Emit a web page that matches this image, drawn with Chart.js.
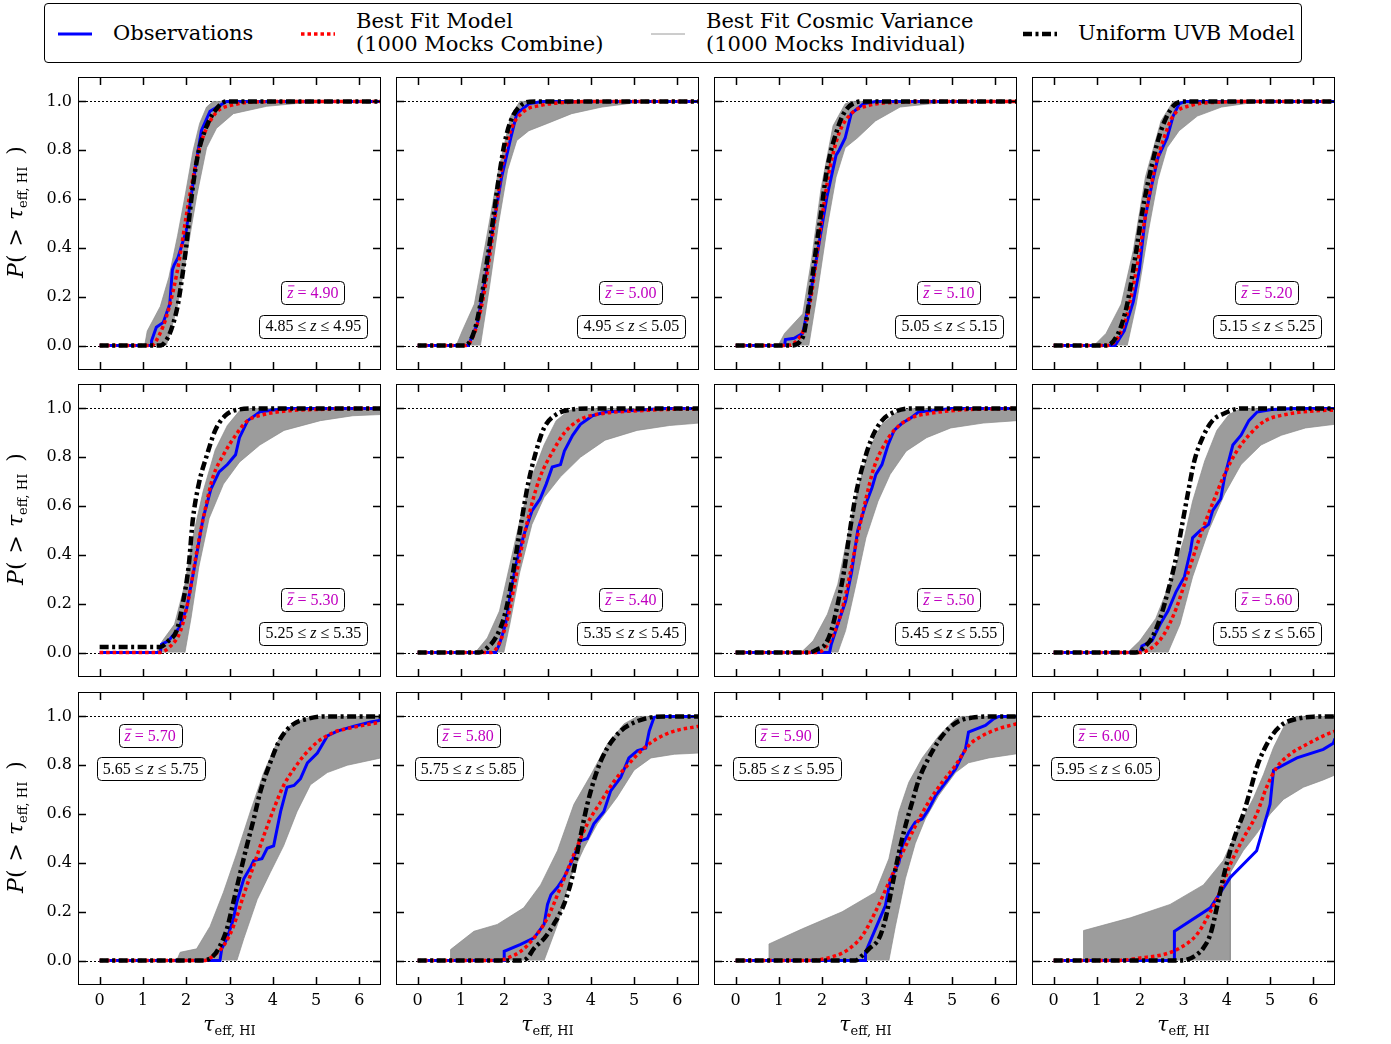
<!DOCTYPE html>
<html>
<head>
<meta charset="utf-8">
<script src="https://cdn.jsdelivr.net/npm/chart.js@4.4.1/dist/chart.umd.min.js"></script>
<style>
  body { margin: 0; background: #fff; }
  #page { position: relative; width: 1391px; height: 1044px; overflow: hidden; font-family: "DejaVu Serif", serif; }
  canvas { position: absolute; }
  #legend { position: absolute; left: 44px; top: 3px; width: 1256px; height: 58px; border: 1px solid #000; border-radius: 4px; }
  .lgtxt { position: absolute; top: 50%; transform: translateY(-50%); font-size: 21px; line-height: 23px; white-space: nowrap; }
  .lgline { position: absolute; top: 24px; }
  .ytitle { position: absolute; transform: translate(-50%, -50%) rotate(-90deg); font-size: 22px; line-height: 22px; white-space: nowrap; }
  .xtitle { position: absolute; transform: translateX(-50%); font-size: 20px; line-height: 20px; white-space: nowrap; }
  sub { font-size: 13px; vertical-align: -4px; font-style: normal; }
</style>
</head>
<body>
<div id="page">
  <div id="legend"></div>
</div>
<script>
// redshift bins, one per panel (left to right, top to bottom)
const zMid  = [4.90, 5.00, 5.10, 5.20, 5.30, 5.40, 5.50, 5.60, 5.70, 5.80, 5.90, 6.00];
const zLow  = [4.85, 4.95, 5.05, 5.15, 5.25, 5.35, 5.45, 5.55, 5.65, 5.75, 5.85, 5.95];
const zHigh = [4.95, 5.05, 5.15, 5.25, 5.35, 5.45, 5.55, 5.65, 5.75, 5.85, 5.95, 6.05];

const xTicks = [0, 1, 2, 3, 4, 5, 6];
const yTicks = [0, 0.2, 0.4, 0.6, 0.8, 1.0];
const refLines = [0, 1];

// observed cumulative distributions [tau, P]
const obsCurves = [
  [[0,0],[1.2,0],[1.2,0.02],[1.31,0.075],[1.47,0.095],[1.62,0.17],[1.68,0.31],[1.72,0.33],[1.81,0.36],[2.0,0.47],[2.12,0.62],[2.24,0.76],[2.35,0.88],[2.55,0.96],[2.93,1.0],[6.5,1.0]],
  [[0,0],[1.17,0],[1.38,0.09],[1.59,0.3],[1.73,0.47],[1.94,0.69],[2.15,0.85],[2.29,0.95],[2.57,0.99],[2.86,1.0],[6.5,1.0]],
  [[0,0],[1.13,0],[1.15,0.025],[1.35,0.03],[1.55,0.05],[1.69,0.17],[1.9,0.39],[2.11,0.61],[2.32,0.78],[2.39,0.8],[2.53,0.85],[2.67,0.95],[2.95,0.99],[3.23,1.0],[6.5,1.0]],
  [[0,0],[1.42,0],[1.63,0.06],[1.84,0.18],[1.98,0.31],[2.12,0.53],[2.27,0.66],[2.41,0.77],[2.62,0.85],[2.76,0.94],[2.9,0.99],[3.04,1.0],[6.5,1.0]],
  [[0,0],[1.4,0],[1.43,0.034],[1.59,0.048],[1.83,0.1],[2.01,0.18],[2.2,0.36],[2.39,0.55],[2.57,0.67],[2.76,0.74],[2.95,0.77],[3.14,0.81],[3.23,0.88],[3.42,0.95],[3.7,0.986],[3.89,0.99],[4.26,1.0],[6.5,1.0]],
  [[0,0],[1.8,0],[1.89,0.034],[2.03,0.116],[2.13,0.225],[2.27,0.36],[2.45,0.48],[2.64,0.58],[2.83,0.63],[2.97,0.69],[3.11,0.76],[3.3,0.77],[3.39,0.825],[3.58,0.89],[3.76,0.935],[4.04,0.97],[4.33,0.985],[5.07,0.992],[5.64,1.0],[6.5,1.0]],
  [[0,0],[2.17,0],[2.21,0.034],[2.36,0.116],[2.54,0.21],[2.68,0.33],[2.82,0.5],[3.01,0.61],[3.15,0.675],[3.24,0.73],[3.38,0.77],[3.52,0.85],[3.66,0.91],[3.85,0.94],[4.04,0.96],[4.22,0.985],[4.6,0.992],[4.97,1.0],[6.5,1.0]],
  [[0,0],[1.99,0],[2.04,0.027],[2.27,0.048],[2.46,0.116],[2.64,0.17],[2.83,0.25],[3.02,0.31],[3.16,0.416],[3.21,0.47],[3.39,0.5],[3.58,0.525],[3.67,0.58],[3.86,0.63],[3.95,0.72],[4.14,0.85],[4.33,0.89],[4.51,0.95],[4.7,0.985],[5.07,0.996],[5.54,1.0],[6.5,1.0]],
  [[0,0],[2.78,0],[2.82,0.048],[2.94,0.09],[3.09,0.17],[3.17,0.24],[3.33,0.335],[3.48,0.38],[3.56,0.41],[3.75,0.417],[3.87,0.46],[4.02,0.47],[4.18,0.61],[4.33,0.71],[4.49,0.717],[4.64,0.745],[4.8,0.81],[5.03,0.85],[5.26,0.92],[5.49,0.94],[5.88,0.96],[6.26,0.977],[6.5,0.984]],
  [[0,0],[2.0,0],[2.0,0.038],[2.38,0.066],[2.69,0.093],[2.92,0.148],[3.0,0.23],[3.08,0.27],[3.23,0.3],[3.38,0.34],[3.57,0.41],[3.76,0.49],[3.92,0.5],[4.07,0.56],[4.3,0.61],[4.46,0.695],[4.69,0.75],[4.88,0.83],[5.08,0.86],[5.27,0.87],[5.35,0.94],[5.46,0.996],[5.54,1.0],[6.5,1.0]],
  [[0,0],[3.0,0],[3.0,0.034],[3.23,0.13],[3.46,0.225],[3.58,0.335],[3.77,0.4],[3.85,0.47],[4.0,0.526],[4.15,0.567],[4.31,0.58],[4.46,0.62],[4.62,0.676],[4.85,0.73],[5.08,0.785],[5.31,0.867],[5.38,0.936],[5.77,0.963],[5.96,0.99],[6.08,1.0],[6.5,1.0]],
  [[0,0],[2.79,0],[2.79,0.12],[3.62,0.216],[4.08,0.34],[4.69,0.45],[5.0,0.64],[5.08,0.78],[5.62,0.83],[6.23,0.865],[6.46,0.89],[6.5,0.91]]
];

// best fit model, 1000 mocks combined
const modelCurves = [
  [[0,0],[1.2,0],[1.39,0.048],[1.54,0.116],[1.7,0.225],[1.85,0.36],[2.0,0.53],[2.16,0.69],[2.31,0.81],[2.47,0.89],[2.7,0.956],[3.09,0.986],[3.86,0.999],[4.5,1.0],[6.5,1.0]],
  [[0,0],[1.1,0],[1.31,0.05],[1.52,0.2],[1.66,0.36],[1.8,0.54],[1.94,0.72],[2.15,0.88],[2.43,0.956],[2.86,0.984],[3.56,0.997],[4.26,1.0],[6.5,1.0]],
  [[0,0],[1.13,0],[1.41,0.02],[1.62,0.09],[1.76,0.22],[1.9,0.4],[2.04,0.58],[2.18,0.73],[2.39,0.87],[2.67,0.95],[3.09,0.984],[3.8,0.997],[4.64,1.0],[6.5,1.0]],
  [[0,0],[1.21,0],[1.49,0.034],[1.7,0.13],[1.91,0.31],[2.12,0.53],[2.33,0.72],[2.55,0.85],[2.76,0.94],[3.18,0.984],[3.88,0.997],[4.59,1.0],[6.5,1.0]],
  [[0,0],[1.36,0],[1.64,0.027],[1.87,0.09],[2.06,0.225],[2.25,0.42],[2.43,0.58],[2.62,0.72],[2.86,0.81],[3.14,0.89],[3.42,0.95],[3.79,0.975],[4.35,0.99],[5.1,0.996],[5.85,1.0],[6.5,1.0]],
  [[0,0],[1.7,0],[1.89,0.04],[2.08,0.14],[2.27,0.31],[2.45,0.47],[2.64,0.61],[2.83,0.72],[3.11,0.82],[3.39,0.9],[3.76,0.955],[4.23,0.978],[5.07,0.99],[6.01,0.997],[6.5,0.998]],
  [[0,0],[1.89,0],[2.07,0.02],[2.26,0.075],[2.45,0.17],[2.64,0.32],[2.82,0.48],[3.01,0.63],[3.2,0.76],[3.43,0.85],[3.66,0.91],[4.04,0.96],[4.5,0.98],[5.16,0.993],[5.9,0.998],[6.5,1.0]],
  [[0,0],[1.99,0],[2.27,0.02],[2.55,0.075],[2.83,0.18],[3.11,0.33],[3.39,0.48],[3.67,0.61],[3.95,0.73],[4.23,0.825],[4.51,0.89],[4.89,0.95],[5.36,0.975],[6.01,0.99],[6.5,0.993]],
  [[0,0],[2.4,0],[2.63,0.02],[2.86,0.06],[3.09,0.14],[3.33,0.27],[3.56,0.39],[3.79,0.51],[4.02,0.62],[4.25,0.717],[4.49,0.785],[4.72,0.84],[5.03,0.895],[5.41,0.935],[5.88,0.956],[6.5,0.977]],
  [[0,0],[1.84,0],[2.07,0.01],[2.38,0.038],[2.69,0.093],[3.0,0.175],[3.3,0.3],[3.61,0.435],[3.92,0.56],[4.23,0.65],[4.54,0.735],[4.85,0.8],[5.23,0.87],[5.54,0.91],[5.93,0.94],[6.5,0.96]],
  [[0,0],[1.69,0],[2.31,0.02],[2.62,0.048],[2.92,0.1],[3.23,0.2],[3.54,0.32],[3.85,0.44],[4.15,0.55],[4.46,0.65],[4.77,0.73],[5.08,0.8],[5.38,0.88],[5.69,0.92],[6.08,0.95],[6.5,0.97]],
  [[0,0],[1.46,0],[2.0,0.011],[2.54,0.025],[2.92,0.052],[3.31,0.107],[3.62,0.2],[3.85,0.285],[4.08,0.394],[4.38,0.5],[4.69,0.6],[4.92,0.71],[5.15,0.79],[5.46,0.845],[5.85,0.886],[6.23,0.92],[6.5,0.94]]
];

// uniform UVB model
const uvbCurves = [
  [[0,0],[1.4,0],[1.58,0.034],[1.7,0.09],[1.81,0.17],[1.93,0.31],[2.01,0.42],[2.08,0.54],[2.16,0.66],[2.28,0.79],[2.43,0.88],[2.62,0.95],[2.93,1.0],[6.5,1.0]],
  [[0,0],[1.1,0],[1.31,0.06],[1.45,0.17],[1.59,0.33],[1.73,0.5],[1.87,0.68],[2.01,0.83],[2.15,0.92],[2.36,0.98],[2.71,1.0],[6.5,1.0]],
  [[0,0],[1.27,0],[1.55,0.034],[1.69,0.17],[1.83,0.36],[1.97,0.54],[2.11,0.72],[2.32,0.87],[2.53,0.96],[2.95,1.0],[6.5,1.0]],
  [[0,0],[1.21,0],[1.49,0.05],[1.7,0.17],[1.91,0.39],[2.05,0.55],[2.27,0.74],[2.48,0.88],[2.76,0.98],[3.04,1.0],[6.5,1.0]],
  [[0,0.023],[1.4,0.023],[1.59,0.048],[1.78,0.09],[1.92,0.2],[2.06,0.36],[2.15,0.54],[2.29,0.69],[2.48,0.81],[2.67,0.91],[2.9,0.97],[3.23,0.996],[3.7,1.0],[6.5,1.0]],
  [[0,0],[1.42,0],[1.61,0.02],[1.8,0.06],[1.99,0.14],[2.13,0.25],[2.27,0.4],[2.41,0.55],[2.55,0.69],[2.73,0.82],[2.92,0.92],[3.2,0.975],[3.58,0.996],[3.95,1.0],[6.5,1.0]],
  [[0,0],[1.7,0],[1.89,0.014],[2.07,0.034],[2.21,0.09],[2.36,0.2],[2.5,0.33],[2.64,0.5],[2.78,0.65],[2.96,0.78],[3.15,0.88],[3.38,0.95],[3.66,0.985],[4.04,1.0],[6.5,1.0]],
  [[0,0],[1.9,0],[2.08,0.02],[2.27,0.06],[2.46,0.14],[2.64,0.25],[2.83,0.39],[2.97,0.525],[3.11,0.66],[3.25,0.785],[3.44,0.88],[3.67,0.95],[3.95,0.98],[4.33,1.0],[6.5,1.0]],
  [[0,0],[2.4,0],[2.63,0.02],[2.78,0.06],[2.94,0.13],[3.09,0.24],[3.25,0.36],[3.4,0.47],[3.56,0.58],[3.71,0.69],[3.94,0.81],[4.18,0.91],[4.49,0.97],[4.8,0.99],[5.18,1.0],[6.5,1.0]],
  [[0,0],[2.38,0],[2.53,0.01],[2.69,0.05],[2.92,0.09],[3.15,0.15],[3.38,0.23],[3.57,0.34],[3.73,0.48],[3.92,0.64],[4.15,0.78],[4.38,0.87],[4.69,0.94],[5.0,0.975],[5.39,0.996],[5.77,1.0],[6.5,1.0]],
  [[0,0],[2.77,0],[2.92,0.02],[3.08,0.048],[3.31,0.09],[3.46,0.17],[3.62,0.31],[3.77,0.44],[3.92,0.55],[4.08,0.65],[4.23,0.74],[4.46,0.83],[4.69,0.9],[4.92,0.95],[5.15,0.98],[5.46,0.995],[5.9,1.0],[6.5,1.0]],
  [[0,0],[2.85,0],[3.08,0.004],[3.31,0.025],[3.46,0.052],[3.62,0.107],[3.77,0.216],[3.92,0.34],[4.08,0.45],[4.23,0.53],[4.38,0.6],[4.54,0.695],[4.69,0.79],[4.85,0.86],[5.08,0.93],[5.31,0.97],[5.62,0.99],[6.0,0.999],[6.46,1.0],[6.5,1.0]]
];

// spread of the 1000 individual mocks: earliest-rising edge and latest-rising edge
const mockEarly = [
  [[1.04,0],[1.1,0.06],[1.4,0.16],[1.6,0.28],[1.8,0.45],[1.98,0.62],[2.16,0.8],[2.31,0.91],[2.47,0.977],[2.62,1.0]],
  [[0.89,0],[1.03,0.06],[1.31,0.17],[1.59,0.44],[1.87,0.72],[2.15,0.94],[2.36,1.0]],
  [[0.98,0],[1.13,0.05],[1.55,0.13],[1.76,0.36],[1.97,0.64],[2.25,0.9],[2.53,0.99],[2.67,1.0]],
  [[0.93,0],[1.21,0.05],[1.56,0.17],[1.84,0.39],[2.12,0.69],[2.48,0.92],[2.76,1.0]],
  [[1.31,0],[1.45,0.048],[1.73,0.116],[1.97,0.28],[2.15,0.47],[2.39,0.66],[2.67,0.83],[2.95,0.93],[3.23,0.99],[3.42,1.0]],
  [[1.33,0],[1.61,0.06],[1.89,0.17],[2.13,0.36],[2.36,0.54],[2.64,0.72],[2.92,0.85],[3.2,0.95],[3.48,0.99],[3.67,1.0]],
  [[1.51,0],[1.79,0.048],[2.12,0.157],[2.36,0.28],[2.59,0.48],[2.82,0.67],[3.1,0.84],[3.38,0.935],[3.76,0.99],[4.04,1.0]],
  [[1.71,0],[1.99,0.048],[2.36,0.14],[2.74,0.31],[3.02,0.47],[3.21,0.62],[3.49,0.785],[3.77,0.91],[4.05,0.975],[4.33,1.0]],
  [[1.78,0],[1.86,0.034],[2.24,0.048],[2.55,0.14],[2.86,0.28],[3.17,0.44],[3.48,0.61],[3.79,0.77],[4.1,0.895],[4.41,0.963],[4.72,0.99],[4.95,1.0]],
  [[0.76,0],[0.76,0.045],[1.3,0.12],[1.84,0.148],[2.45,0.216],[2.84,0.31],[3.23,0.45],[3.61,0.64],[4.0,0.76],[4.38,0.886],[4.77,0.97],[5.08,1.0]],
  [[0.77,0],[0.77,0.068],[1.54,0.13],[2.46,0.2],[3.23,0.28],[3.54,0.417],[3.77,0.61],[4.0,0.73],[4.31,0.83],[4.69,0.92],[5.08,0.99],[5.23,1.0]],
  [[0.69,0],[0.69,0.123],[1.77,0.175],[2.69,0.23],[3.46,0.31],[3.92,0.41],[4.15,0.5],[4.38,0.585],[4.62,0.667],[4.85,0.763],[5.08,0.873],[5.31,0.955],[5.46,0.99],[5.62,1.0]]
];
const mockLate = [
  [[1.54,0],[1.77,0.14],[2.0,0.36],[2.24,0.61],[2.47,0.81],[2.7,0.89],[3.09,0.95],[3.86,0.98],[4.63,0.993],[6.5,1.0]],
  [[1.45,0],[1.66,0.24],[1.87,0.5],[2.08,0.72],[2.29,0.84],[2.57,0.88],[3.0,0.91],[3.56,0.95],[4.26,0.977],[4.96,0.993],[6.09,1.0],[6.5,1.0]],
  [[1.69,0],[1.9,0.23],[2.11,0.48],[2.32,0.69],[2.53,0.81],[2.81,0.85],[3.23,0.92],[3.8,0.977],[4.64,0.993],[6.05,1.0],[6.5,1.0]],
  [[1.7,0],[1.91,0.17],[2.19,0.47],[2.41,0.68],[2.62,0.81],[2.9,0.88],[3.32,0.94],[3.88,0.977],[4.59,0.995],[5.71,1.0],[6.5,1.0]],
  [[1.97,0],[2.11,0.14],[2.29,0.35],[2.53,0.55],[2.86,0.69],[3.23,0.78],[3.7,0.85],[4.26,0.91],[5.1,0.95],[5.85,0.97],[6.5,0.975]],
  [[1.99,0],[2.13,0.116],[2.36,0.33],[2.64,0.525],[2.92,0.635],[3.3,0.72],[3.76,0.8],[4.33,0.87],[5.07,0.91],[5.82,0.93],[6.5,0.94]],
  [[2.36,0],[2.54,0.09],[2.78,0.28],[3.01,0.47],[3.29,0.62],[3.57,0.73],[3.94,0.825],[4.41,0.88],[4.97,0.92],[5.72,0.94],[6.5,0.95]],
  [[2.64,0],[2.92,0.116],[3.21,0.31],[3.58,0.5],[3.95,0.65],[4.33,0.77],[4.79,0.85],[5.26,0.89],[5.82,0.92],[6.5,0.935]],
  [[3.17,0],[3.33,0.09],[3.64,0.25],[3.94,0.36],[4.25,0.47],[4.56,0.61],[4.87,0.72],[5.26,0.77],[5.72,0.8],[6.5,0.83]],
  [[2.92,0],[3.23,0.148],[3.53,0.34],[3.84,0.46],[4.15,0.56],[4.61,0.67],[5.0,0.78],[5.39,0.83],[5.93,0.845],[6.5,0.85]],
  [[3.54,0],[3.69,0.14],[3.92,0.335],[4.15,0.48],[4.38,0.58],[4.69,0.676],[5.08,0.77],[5.38,0.81],[5.85,0.83],[6.5,0.847]],
  [[4.08,0],[4.08,0.36],[4.38,0.45],[4.69,0.52],[5.0,0.6],[5.31,0.66],[5.77,0.71],[6.23,0.74],[6.5,0.76]]
];

const X_MIN = -0.5, X_MAX = 6.5, Y_MIN = -0.1, Y_MAX = 1.1;

const styles = {
  obs:   { label: ['Observations'], color: '#0000ff', width: 3, dash: [] },
  model: { label: ['Best Fit Model', '(1000 Mocks Combine)'], color: '#ff0000', width: 3.5, dash: [3.5, 3] },
  mocks: { label: ['Best Fit Cosmic Variance', '(1000 Mocks Individual)'], color: '#9a9a9a', width: 1, dash: [] },
  uvb:   { label: ['Uniform UVB Model'], color: '#000000', width: 4.5, dash: [9, 3.5, 3, 3.5] }
};

// page layout
const colLeft = [78, 396, 714, 1032];
const rowTop = [77, 384, 692];
const PW = 303, PH = 293;
const PAD = { l: 72, r: 6, t: 6, b: 36 };
const page = document.getElementById('page');

// legend
const legendOrder = ['obs', 'model', 'mocks', 'uvb'];
const sampleLeft = [13, 256, 606, 978];
const textLeft = [68, 311, 661, 1033];
const legend = document.getElementById('legend');
legendOrder.forEach(function (key, k) {
  var s = styles[key];
  var c = document.createElement('canvas');
  c.width = 34; c.height = 12;
  c.className = 'lgline';
  c.style.left = sampleLeft[k] + 'px';
  legend.appendChild(c);
  var g = c.getContext('2d');
  g.strokeStyle = s.color; g.lineWidth = s.width; g.setLineDash(s.dash);
  g.beginPath(); g.moveTo(0, 6); g.lineTo(34, 6); g.stroke();
  var t = document.createElement('div');
  t.className = 'lgtxt';
  t.style.left = textLeft[k] + 'px';
  t.innerHTML = s.label.join('<br>');
  legend.appendChild(t);
});

function pts(arr) {
  return arr.map(function (p) { return { x: p[0], y: p[1] }; });
}

function drawLabelBox(ctx, cx, cy, parts, color) {
  var total = 0;
  parts.forEach(function (p) { ctx.font = p.font; p.w = ctx.measureText(p.t).width; total += p.w; });
  var w = Math.round(total + 12), h = 23;
  var x0 = Math.round(cx - w / 2) + 0.5, y0 = Math.round(cy - h / 2) + 0.5;
  ctx.beginPath();
  if (ctx.roundRect) ctx.roundRect(x0, y0, w, h, 4); else ctx.rect(x0, y0, w, h);
  ctx.fillStyle = '#fff'; ctx.fill();
  ctx.strokeStyle = '#000'; ctx.lineWidth = 1; ctx.setLineDash([]); ctx.stroke();
  var x = cx - total / 2;
  ctx.fillStyle = color; ctx.textBaseline = 'middle'; ctx.textAlign = 'left';
  parts.forEach(function (p) {
    ctx.font = p.font;
    ctx.fillText(p.t, x, cy + 1);
    if (p.bar) {
      ctx.strokeStyle = color; ctx.lineWidth = 1;
      ctx.beginPath(); ctx.moveTo(x + 1, cy - 6.5); ctx.lineTo(x + p.w + 1, cy - 6.5); ctx.stroke();
    }
    x += p.w;
  });
}

const panelDeco = {
  id: 'panelDeco',
  beforeDatasetsDraw: function (chart) {
    var ctx = chart.ctx, a = chart.chartArea, y = chart.scales.y;
    ctx.save();
    ctx.strokeStyle = '#000'; ctx.lineWidth = 1; ctx.setLineDash([2, 2]);
    refLines.forEach(function (v) {
      var py = Math.round(y.getPixelForValue(v)) + 0.5;
      ctx.beginPath(); ctx.moveTo(a.left, py); ctx.lineTo(a.right, py); ctx.stroke();
    });
    ctx.restore();
  },
  afterDatasetsDraw: function (chart, args, opts) {
    var ctx = chart.ctx, a = chart.chartArea, x = chart.scales.x, y = chart.scales.y;
    var i = opts.idx, row = Math.floor(i / 4);
    ctx.save();
    // frame
    ctx.strokeStyle = '#000'; ctx.lineWidth = 1; ctx.setLineDash([]);
    ctx.strokeRect(a.left + 0.5, a.top + 0.5, a.width - 1, a.height - 1);
    // inward ticks on all four sides
    var TL = 8;
    ctx.lineWidth = 1.5;
    ctx.beginPath();
    xTicks.forEach(function (v) {
      var px = Math.round(x.getPixelForValue(v)) + 0.5;
      ctx.moveTo(px, a.bottom); ctx.lineTo(px, a.bottom - TL);
      ctx.moveTo(px, a.top); ctx.lineTo(px, a.top + TL);
    });
    yTicks.forEach(function (v) {
      var py = Math.round(y.getPixelForValue(v)) + 0.5;
      ctx.moveTo(a.left, py); ctx.lineTo(a.left + TL, py);
      ctx.moveTo(a.right, py); ctx.lineTo(a.right - TL, py);
    });
    ctx.stroke();
    // redshift labels
    var f = row < 2 ? [0.775, 0.735, 0.777, 0.85] : [0.238, 0.149, 0.24, 0.261];
    var fontR = '16px "Liberation Serif"', fontI = 'italic 16px "Liberation Serif"';
    drawLabelBox(ctx, a.left + f[0] * a.width, a.top + f[1] * a.height,
      [{ t: 'z', font: fontI, bar: true }, { t: ' = ' + zMid[i].toFixed(2), font: fontR }], '#c000c0');
    drawLabelBox(ctx, a.left + f[2] * a.width, a.top + f[3] * a.height,
      [{ t: zLow[i].toFixed(2) + ' \u2264 ', font: fontR }, { t: 'z', font: fontI }, { t: ' \u2264 ' + zHigh[i].toFixed(2), font: fontR }], '#000');
    ctx.restore();
  }
};

function lineSet(s, data, order, extra) {
  var d = {
    label: s.label.join(' '), data: data, order: order,
    borderColor: s.color, borderWidth: s.width, borderDash: s.dash,
    pointRadius: 0, fill: false, clip: 0
  };
  return Object.assign(d, extra || {});
}

for (let i = 0; i < 12; i++) {
  const row = Math.floor(i / 4), col = i % 4;
  const c = document.createElement('canvas');
  c.width = PW + PAD.l + PAD.r;
  c.height = PH + PAD.t + PAD.b;
  c.style.left = (colLeft[col] - PAD.l) + 'px';
  c.style.top = (rowTop[row] - PAD.t) + 'px';
  page.appendChild(c);

  const band = mockEarly[i].concat([[X_MAX, 1.0]], mockLate[i].slice().reverse());
  const tickFont = { family: 'DejaVu Serif', size: 16 };

  new Chart(c, {
    type: 'line',
    data: {
      datasets: [
        lineSet(styles.mocks, pts(band), 3, { fill: 'shape', backgroundColor: 'rgba(128,128,128,0.78)', borderColor: 'rgba(140,140,140,0.7)' }),
        lineSet(styles.obs, pts(obsCurves[i]), 2),
        lineSet(styles.model, pts(modelCurves[i]), 1, { cubicInterpolationMode: 'monotone' }),
        lineSet(styles.uvb, pts(uvbCurves[i]), 0, { cubicInterpolationMode: 'monotone' })
      ]
    },
    options: {
      responsive: false, animation: false, devicePixelRatio: 1,
      layout: { padding: { top: PAD.t, right: PAD.r, left: 0, bottom: 0 }, autoPadding: false },
      plugins: { legend: { display: false }, tooltip: { enabled: false }, panelDeco: { idx: i } },
      scales: {
        x: {
          type: 'linear', min: X_MIN, max: X_MAX,
          grid: { display: false, drawTicks: false }, border: { display: false },
          ticks: { display: row === 2, padding: 6, color: '#000', font: tickFont, callback: function (v) { return String(v); } },
          afterBuildTicks: function (s) { s.ticks = xTicks.map(function (v) { return { value: v }; }); },
          afterFit: function (s) { s.height = PAD.b; s.paddingLeft = 0; s.paddingRight = 0; }
        },
        y: {
          type: 'linear', min: Y_MIN, max: Y_MAX,
          grid: { display: false, drawTicks: false }, border: { display: false },
          ticks: { display: col === 0, padding: 6, color: '#000', font: tickFont, callback: function (v) { return v.toFixed(1); } },
          afterBuildTicks: function (s) { s.ticks = yTicks.map(function (v) { return { value: v }; }); },
          afterFit: function (s) { s.width = PAD.l; s.paddingTop = 0; s.paddingBottom = 0; }
        }
      }
    },
    plugins: [panelDeco]
  });
}

// axis titles
rowTop.forEach(function (t) {
  var d = document.createElement('div');
  d.className = 'ytitle';
  d.style.left = '19px';
  d.style.top = (t + PH / 2 - 12) + 'px';
  d.innerHTML = '<i>P</i>(<span style="margin:0 8px">&gt;</span><i>\u03c4</i><sub>eff, HI</sub><span style="margin-left:12px">)</span>';
  page.appendChild(d);
});
colLeft.forEach(function (l) {
  var d = document.createElement('div');
  d.className = 'xtitle';
  d.style.left = (l + PW / 2) + 'px';
  d.style.top = '1014px';
  d.innerHTML = '<i>\u03c4</i><sub>eff, HI</sub>';
  page.appendChild(d);
});
</script>
</body>
</html>
